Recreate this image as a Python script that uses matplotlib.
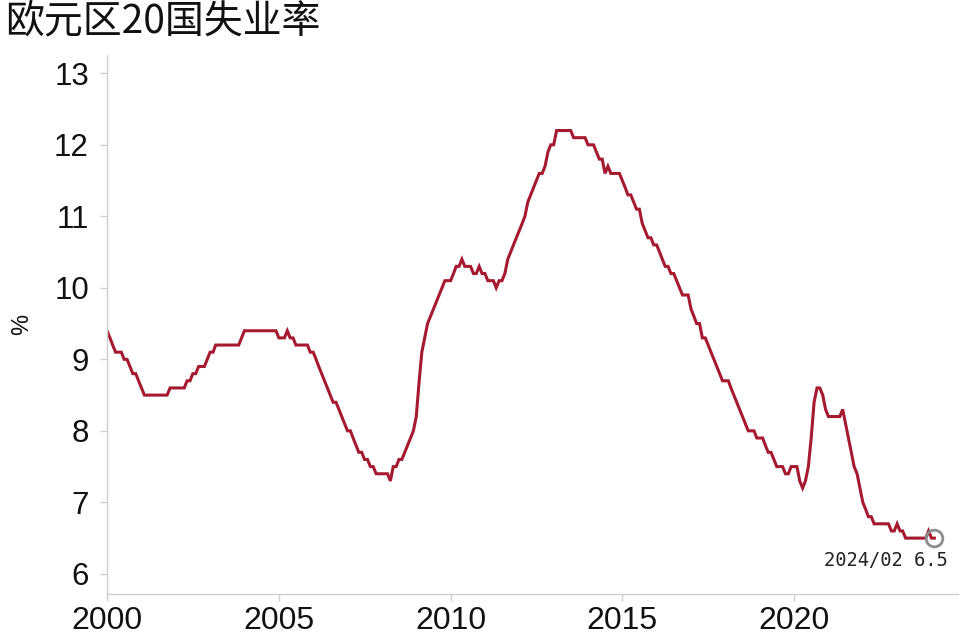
import matplotlib
matplotlib.use("Agg")
import matplotlib.pyplot as plt
import matplotlib.dates as mdates
import pandas as pd

title = "欧元区20国失业率"
start_month = "2000-01"
# Monthly unemployment rate (%), Jan 2000 - Feb 2024
values = [
    # 2000
    9.4, 9.3, 9.2, 9.1, 9.1, 9.1, 9.0, 9.0, 8.9, 8.8, 8.8, 8.7,
    # 2001
    8.6, 8.5, 8.5, 8.5, 8.5, 8.5, 8.5, 8.5, 8.5, 8.5, 8.6, 8.6,
    # 2002
    8.6, 8.6, 8.6, 8.6, 8.7, 8.7, 8.8, 8.8, 8.9, 8.9, 8.9, 9.0,
    # 2003
    9.1, 9.1, 9.2, 9.2, 9.2, 9.2, 9.2, 9.2, 9.2, 9.2, 9.2, 9.3,
    # 2004
    9.4, 9.4, 9.4, 9.4, 9.4, 9.4, 9.4, 9.4, 9.4, 9.4, 9.4, 9.4,
    # 2005
    9.3, 9.3, 9.3, 9.4, 9.3, 9.3, 9.2, 9.2, 9.2, 9.2, 9.2, 9.1,
    # 2006
    9.1, 9.0, 8.9, 8.8, 8.7, 8.6, 8.5, 8.4, 8.4, 8.3, 8.2, 8.1,
    # 2007
    8.0, 8.0, 7.9, 7.8, 7.7, 7.7, 7.6, 7.6, 7.5, 7.5, 7.4, 7.4,
    # 2008
    7.4, 7.4, 7.4, 7.3, 7.5, 7.5, 7.6, 7.6, 7.7, 7.8, 7.9, 8.0,
    # 2009
    8.2, 8.7, 9.1, 9.3, 9.5, 9.6, 9.7, 9.8, 9.9, 10.0, 10.1, 10.1,
    # 2010
    10.1, 10.2, 10.3, 10.3, 10.4, 10.3, 10.3, 10.3, 10.2, 10.2, 10.3, 10.2,
    # 2011
    10.2, 10.1, 10.1, 10.1, 10.0, 10.1, 10.1, 10.2, 10.4, 10.5, 10.6, 10.7,
    # 2012
    10.8, 10.9, 11.0, 11.2, 11.3, 11.4, 11.5, 11.6, 11.6, 11.7, 11.9, 12.0,
    # 2013
    12.0, 12.2, 12.2, 12.2, 12.2, 12.2, 12.2, 12.1, 12.1, 12.1, 12.1, 12.1,
    # 2014
    12.0, 12.0, 12.0, 11.9, 11.8, 11.8, 11.6, 11.7, 11.6, 11.6, 11.6, 11.6,
    # 2015
    11.5, 11.4, 11.3, 11.3, 11.2, 11.1, 11.1, 10.9, 10.8, 10.7, 10.7, 10.6,
    # 2016
    10.6, 10.5, 10.4, 10.3, 10.3, 10.2, 10.2, 10.1, 10.0, 9.9, 9.9, 9.9,
    # 2017
    9.7, 9.6, 9.5, 9.5, 9.3, 9.3, 9.2, 9.1, 9.0, 8.9, 8.8, 8.7,
    # 2018
    8.7, 8.7, 8.6, 8.5, 8.4, 8.3, 8.2, 8.1, 8.0, 8.0, 8.0, 7.9,
    # 2019
    7.9, 7.9, 7.8, 7.7, 7.7, 7.6, 7.5, 7.5, 7.5, 7.4, 7.4, 7.5,
    # 2020
    7.5, 7.5, 7.3, 7.2, 7.3, 7.5, 7.9, 8.4, 8.6, 8.6, 8.5, 8.3,
    # 2021
    8.2, 8.2, 8.2, 8.2, 8.2, 8.3, 8.1, 7.9, 7.7, 7.5, 7.4, 7.2,
    # 2022
    7.0, 6.9, 6.8, 6.8, 6.7, 6.7, 6.7, 6.7, 6.7, 6.7, 6.6, 6.6,
    # 2023
    6.7, 6.6, 6.6, 6.5, 6.5, 6.5, 6.5, 6.5, 6.5, 6.5, 6.5, 6.6,
    # 2024
    6.5, 6.5,
]
y_ticks = [6, 7, 8, 9, 10, 11, 12, 13]
x_tick_years = [2000, 2005, 2010, 2015, 2020]
last_label = "2024/02"
line_color = "#A51A30"
grey = "#8C8C8C"
axis_grey = "#D0D0D0"

dates = pd.date_range(start_month, periods=len(values), freq="MS")

plt.rcParams['font.family'] = ['Liberation Sans', 'DejaVu Sans']

fig = plt.figure(figsize=(9.6, 6.41), dpi=100)
ax = fig.add_axes([0.1115, 0.0735, 0.8865, 0.84])

ax.plot(dates, values, color=line_color, lw=2.2, solid_joinstyle='miter')

ax.set_ylim(5.72, 13.25)
ax.set_xlim(pd.Timestamp("2000-01-01"), pd.Timestamp("2024-10-10"))
ax.set_yticks(y_ticks)
ax.set_xticks([pd.Timestamp(f"{y}-01-01") for y in x_tick_years])
ax.xaxis.set_major_formatter(mdates.DateFormatter("%Y"))

for s in ['top', 'right']:
    ax.spines[s].set_visible(False)
for s in ['left', 'bottom']:
    ax.spines[s].set_color(axis_grey)
    ax.spines[s].set_linewidth(1.0)

ax.tick_params(axis='y', direction='out', length=5, width=1, color=axis_grey,
               labelsize=22.5, pad=8, labelcolor='#111111')
ax.tick_params(axis='x', direction='out', length=5, width=1, color=axis_grey,
               labelsize=23, pad=4, labelcolor='#111111')

ax.set_ylabel("%", fontsize=17, labelpad=15, color='#111111')

# end marker + annotation
ax.plot([dates[-1]], [values[-1]], marker='o', ms=12, mfc='none', mec=grey, mew=2.0,
        linestyle='none')
ax.annotate(f"{last_label} {values[-1]}", xy=(dates[-1], values[-1]),
            xytext=(13, -22), textcoords='offset pixels', ha='right', va='center',
            fontsize=13.5, family=['DejaVu Sans Mono'], color='#222222')

fig.text(0.005, 0.966, title, fontsize=28, ha='left', va='center',
         family=['Noto Sans CJK SC', 'DejaVu Sans'], color='#111111')

fig.savefig("out.png", dpi=100)
